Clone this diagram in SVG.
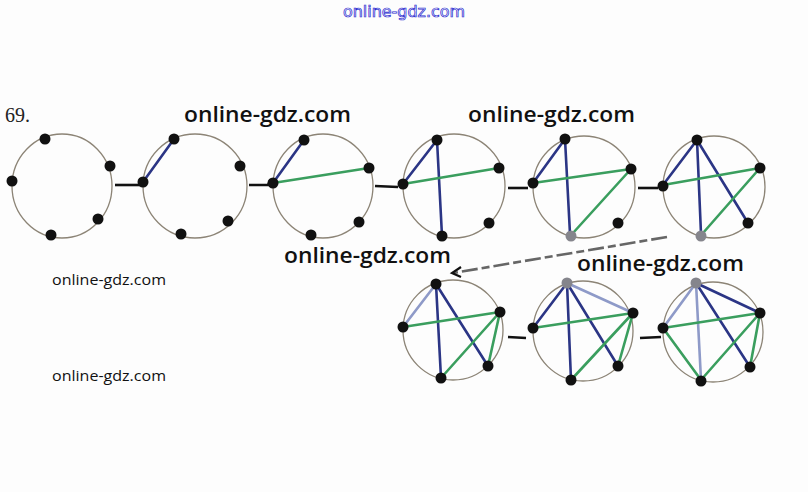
<svg xmlns="http://www.w3.org/2000/svg" width="808" height="492" viewBox="0 0 808 492">
<style>
.c{fill:none;stroke:#8c8476;stroke-width:1.3}
.n{fill:#111}
.g{fill:#85858c}
.b{stroke:#2b3585;stroke-width:2.6;stroke-linecap:round}
.lb{stroke:#8e9ac8;stroke-width:2.6;stroke-linecap:round}
.gr{stroke:#3a9e5e;stroke-width:2.6;stroke-linecap:round}
.k{stroke:#111;stroke-width:2.6;fill:none}
.w{font-family:"Open Sans",Lato,"Liberation Sans",sans-serif;fill:#111}
.wl{font-size:21px;font-weight:600}
.ws{font-size:14.5px}
</style>
<rect width="808" height="492" fill="#fdfdfd"/>
<text x="343" y="17" textLength="122" lengthAdjust="spacingAndGlyphs" font-family="'DejaVu Sans',sans-serif" font-size="15" fill="#ffffff" stroke="#2a2ad0" stroke-width="0.7">online-gdz.com</text>
<text x="5" y="122" font-family="'Liberation Serif',serif" font-size="20" fill="#222">69.</text>

<g id="connectors">
<line class="k" x1="115" y1="185" x2="140" y2="185"/>
<path class="k" d="M249 185 L268 185 L270 181"/>
<line class="k" x1="375" y1="186" x2="398" y2="187"/>
<line class="k" x1="508" y1="188" x2="528" y2="188"/>
<line class="k" x1="638" y1="188" x2="658" y2="188"/>
<line x1="667" y1="237" x2="453" y2="273" stroke="#666" stroke-width="2.6" stroke-dasharray="16 4 8 4"/>
<path d="M461 267 L452 273 L461 277" fill="none" stroke="#111" stroke-width="2.2"/>
<line class="k" x1="508" y1="337" x2="526" y2="338"/>
<line class="k" x1="640" y1="338" x2="661" y2="337"/>
</g>

<g id="s1">
<ellipse class="c" cx="62" cy="186" rx="50" ry="52"/>
<circle class="n" cx="45" cy="139" r="5.5"/>
<circle class="n" cx="110" cy="166" r="5.5"/>
<circle class="n" cx="12" cy="181" r="5.5"/>
<circle class="n" cx="98" cy="219" r="5.5"/>
<circle class="n" cx="51" cy="235" r="5.5"/>
</g>

<g id="s2">
<ellipse class="c" cx="195" cy="186" rx="52" ry="52"/>
<line class="b" x1="143" y1="182" x2="174" y2="139"/>
<circle class="n" cx="174" cy="139" r="5.5"/>
<circle class="n" cx="240" cy="166" r="5.5"/>
<circle class="n" cx="143" cy="182" r="5.5"/>
<circle class="n" cx="228" cy="221" r="5.5"/>
<circle class="n" cx="181" cy="234" r="5.5"/>
</g>

<g id="s3">
<ellipse class="c" cx="323" cy="186" rx="50" ry="52"/>
<line class="b" x1="273" y1="183" x2="304" y2="140"/>
<line class="gr" x1="273" y1="183" x2="369" y2="168"/>
<circle class="n" cx="304" cy="140" r="5.5"/>
<circle class="n" cx="369" cy="168" r="5.5"/>
<circle class="n" cx="273" cy="183" r="5.5"/>
<circle class="n" cx="359" cy="222" r="5.5"/>
<circle class="n" cx="311" cy="235" r="5.5"/>
</g>

<g id="s4">
<ellipse class="c" cx="454" cy="186" rx="51" ry="52"/>
<line class="b" x1="403" y1="184" x2="437" y2="140"/>
<line class="b" x1="437" y1="140" x2="442" y2="236"/>
<line class="gr" x1="403" y1="184" x2="499" y2="168"/>
<circle class="n" cx="437" cy="140" r="5.5"/>
<circle class="n" cx="499" cy="168" r="5.5"/>
<circle class="n" cx="403" cy="184" r="5.5"/>
<circle class="n" cx="489" cy="223" r="5.5"/>
<circle class="n" cx="442" cy="236" r="5.5"/>
</g>

<g id="s5">
<ellipse class="c" cx="584" cy="187" rx="51" ry="51"/>
<line class="b" x1="533" y1="183" x2="565" y2="139"/>
<line class="b" x1="565" y1="139" x2="570" y2="234"/>
<line class="gr" x1="533" y1="183" x2="631" y2="169"/>
<line class="gr" x1="631" y1="169" x2="573" y2="233"/>
<circle class="n" cx="565" cy="139" r="5.5"/>
<circle class="n" cx="631" cy="169" r="5.5"/>
<circle class="n" cx="533" cy="183" r="5.5"/>
<circle class="n" cx="618" cy="223" r="5.5"/>
<circle class="g" cx="571" cy="236" r="5.5"/>
</g>

<g id="s6">
<ellipse class="c" cx="714" cy="187" rx="51" ry="51"/>
<line class="b" x1="663" y1="185" x2="697" y2="140"/>
<line class="b" x1="697" y1="140" x2="701" y2="234"/>
<line class="b" x1="697" y1="140" x2="748" y2="223"/>
<line class="gr" x1="663" y1="185" x2="760" y2="168"/>
<line class="gr" x1="760" y1="168" x2="703" y2="233"/>
<circle class="n" cx="697" cy="140" r="5.5"/>
<circle class="n" cx="760" cy="168" r="5.5"/>
<circle class="n" cx="663" cy="186" r="5.5"/>
<circle class="n" cx="748" cy="223" r="5.5"/>
<circle class="g" cx="701" cy="236" r="5.5"/>
</g>

<g id="s7">
<ellipse class="c" cx="453" cy="330" rx="50" ry="50"/>
<line class="lb" x1="403" y1="327" x2="436" y2="284"/>
<line class="b" x1="436" y1="284" x2="441" y2="378"/>
<line class="b" x1="436" y1="284" x2="488" y2="366"/>
<line class="gr" x1="403" y1="327" x2="500" y2="312"/>
<line class="gr" x1="500" y1="312" x2="441" y2="378"/>
<line class="gr" x1="500" y1="312" x2="488" y2="366"/>
<circle class="n" cx="436" cy="284" r="5.5"/>
<circle class="n" cx="500" cy="312" r="5.5"/>
<circle class="n" cx="403" cy="327" r="5.5"/>
<circle class="n" cx="488" cy="366" r="5.5"/>
<circle class="n" cx="441" cy="378" r="5.5"/>
</g>

<g id="s8">
<ellipse class="c" cx="583" cy="331" rx="50" ry="50"/>
<line class="b" x1="533" y1="328" x2="567" y2="283"/>
<line class="b" x1="567" y1="283" x2="571" y2="380"/>
<line class="b" x1="567" y1="283" x2="618" y2="366"/>
<line class="lb" x1="567" y1="283" x2="633" y2="313"/>
<line class="gr" x1="533" y1="328" x2="633" y2="313"/>
<line class="gr" x1="633" y1="313" x2="571" y2="380"/>
<line class="gr" x1="633" y1="313" x2="618" y2="366"/>
<circle class="g" cx="567" cy="283" r="5.5"/>
<circle class="n" cx="633" cy="313" r="5.5"/>
<circle class="n" cx="533" cy="328" r="5.5"/>
<circle class="n" cx="618" cy="366" r="5.5"/>
<circle class="n" cx="571" cy="380" r="5.5"/>
</g>

<g id="s9">
<ellipse class="c" cx="713" cy="332" rx="50" ry="50"/>
<line class="lb" x1="663" y1="328" x2="696" y2="283"/>
<line class="lb" x1="696" y1="283" x2="701" y2="380"/>
<line class="b" x1="696" y1="283" x2="750" y2="367"/>
<line class="b" x1="696" y1="283" x2="760" y2="313"/>
<line class="gr" x1="663" y1="328" x2="760" y2="313"/>
<line class="gr" x1="760" y1="313" x2="701" y2="380"/>
<line class="gr" x1="760" y1="313" x2="750" y2="367"/>
<line class="gr" x1="663" y1="328" x2="701" y2="380"/>
<circle class="g" cx="696" cy="283" r="5.5"/>
<circle class="n" cx="760" cy="313" r="5.5"/>
<circle class="n" cx="663" cy="328" r="5.5"/>
<circle class="n" cx="750" cy="367" r="5.5"/>
<circle class="n" cx="701" cy="381" r="5.5"/>
</g>

<g id="watermarks">
<text class="w wl" x="184" y="122" textLength="167" lengthAdjust="spacingAndGlyphs">online-gdz.com</text>
<text class="w wl" x="468" y="122" textLength="167" lengthAdjust="spacingAndGlyphs">online-gdz.com</text>
<text class="w wl" x="284" y="263" textLength="167" lengthAdjust="spacingAndGlyphs">online-gdz.com</text>
<text class="w wl" x="577" y="271" textLength="167" lengthAdjust="spacingAndGlyphs">online-gdz.com</text>
<text class="w ws" x="52" y="285" textLength="114" lengthAdjust="spacingAndGlyphs">online-gdz.com</text>
<text class="w ws" x="52" y="381" textLength="114" lengthAdjust="spacingAndGlyphs">online-gdz.com</text>
</g>
</svg>
